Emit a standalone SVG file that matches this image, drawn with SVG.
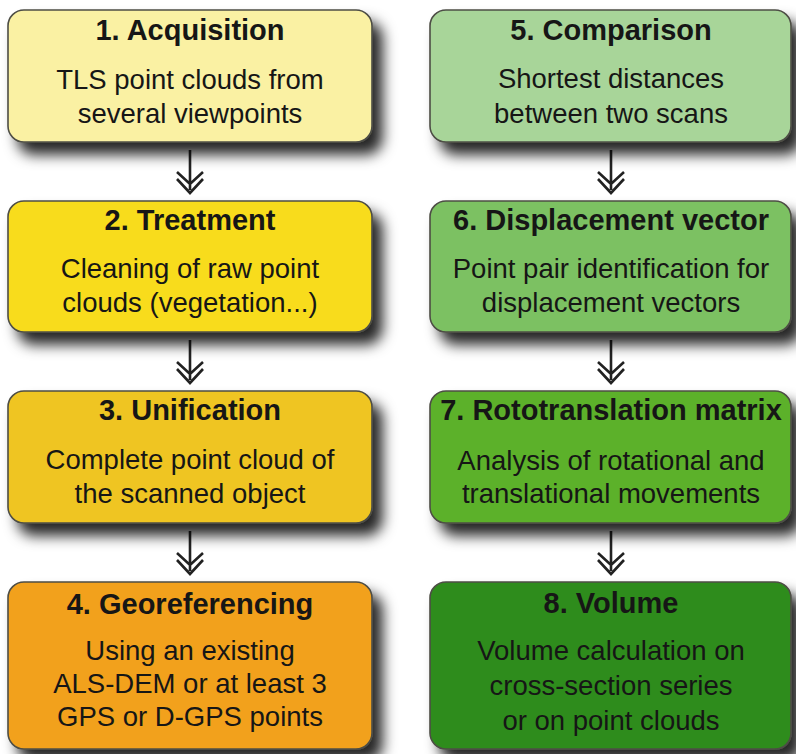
<svg xmlns="http://www.w3.org/2000/svg" width="796" height="754" viewBox="0 0 796 754">
<defs>
<filter id="sh" x="-10%" y="-10%" width="130%" height="140%">
<feDropShadow dx="10" dy="12" stdDeviation="7" flood-color="#000" flood-opacity="0.85"/>
</filter>
</defs>
<style>
.box{stroke:#4d4d45;stroke-width:1.6;filter:url(#sh)}
.t{font-family:"Liberation Sans",Arial,sans-serif;font-weight:bold;font-size:29px;fill:#161616;text-anchor:middle}
.b{font-family:"Liberation Sans",Arial,sans-serif;font-size:27.5px;fill:#161616;text-anchor:middle}
.arr{stroke:#222;stroke-width:2.6;fill:none}
</style>
<rect width="796" height="754" fill="#fff"/>
<g id="connectors">
<g class="arr">
<path d="M190 150V190M177 172L190 184L203 172M177 179L190 193L203 179"/>
<path d="M190 340V380M177 362L190 374L203 362M177 369L190 383L203 369"/>
<path d="M190 531V571M177 553L190 565L203 553M177 560L190 574L203 560"/>
<path d="M611 150V190M598 172L611 184L624 172M598 179L611 193L624 179"/>
<path d="M611 340V380M598 362L611 374L624 362M598 369L611 383L624 369"/>
<path d="M611 531V571M598 553L611 565L624 553M598 560L611 574L624 560"/>
</g>
</g>
<g id="n1">
<rect class="box" x="8" y="10" width="364" height="132" rx="16" fill="#faf1a3"/>
<text class="t" x="190" y="40">1. Acquisition</text>
<text class="b" x="190" y="89">TLS point clouds from</text>
<text class="b" x="190" y="123">several viewpoints</text>
</g>
<g id="n2">
<rect class="box" x="8" y="201" width="364" height="131" rx="16" fill="#f8dc1f"/>
<text class="t" x="190" y="230">2. Treatment</text>
<text class="b" x="190" y="278">Cleaning of raw point</text>
<text class="b" x="190" y="312">clouds (vegetation...)</text>
</g>
<g id="n3">
<rect class="box" x="8" y="391" width="364" height="132" rx="16" fill="#efc520"/>
<text class="t" x="190" y="420">3. Unification</text>
<text class="b" x="190" y="469">Complete point cloud of</text>
<text class="b" x="190" y="503">the scanned object</text>
</g>
<g id="n4">
<rect class="box" x="8" y="582" width="364" height="167" rx="16" fill="#f2a11c"/>
<text class="t" x="190" y="614">4. Georeferencing</text>
<text class="b" x="190" y="660">Using an existing</text>
<text class="b" x="190" y="693">ALS-DEM or at least 3</text>
<text class="b" x="190" y="726">GPS or D-GPS points</text>
</g>
<g id="n5">
<rect class="box" x="430" y="10" width="361" height="132" rx="16" fill="#a8d599"/>
<text class="t" x="611" y="40">5. Comparison</text>
<text class="b" x="611" y="88">Shortest distances</text>
<text class="b" x="611" y="123">between two scans</text>
</g>
<g id="n6">
<rect class="box" x="430" y="201" width="361" height="131" rx="16" fill="#7cc162"/>
<text class="t" x="611" y="230">6. Displacement vector</text>
<text class="b" x="611" y="278">Point pair identification for</text>
<text class="b" x="611" y="312">displacement vectors</text>
</g>
<g id="n7">
<rect class="box" x="430" y="391" width="361" height="132" rx="16" fill="#5cb12a"/>
<text class="t" x="611" y="420">7. Rototranslation matrix</text>
<text class="b" x="611" y="470">Analysis of rotational and</text>
<text class="b" x="611" y="503">translational movements</text>
</g>
<g id="n8">
<rect class="box" x="430" y="582" width="361" height="167" rx="16" fill="#2f8c1e"/>
<text class="t" x="611" y="613">8. Volume</text>
<text class="b" x="611" y="660">Volume calculation on</text>
<text class="b" x="611" y="695">cross-section series</text>
<text class="b" x="611" y="730">or on point clouds</text>
</g>
</svg>
